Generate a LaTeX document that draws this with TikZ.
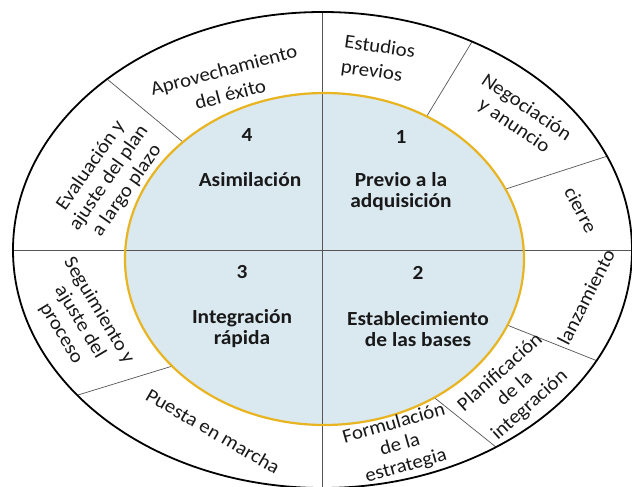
\documentclass[tikz,border=0pt]{standalone}
\usepackage{fontspec}
\setmainfont{Carlito}[FakeStretch=1.07]
\usetikzlibrary{calc}
\definecolor{innerfill}{HTML}{DAE8F0}
\definecolor{ringgold}{HTML}{E8B420}
\definecolor{divgray}{HTML}{555555}
\tikzset{
  phase/.style={font=\fontsize{20}{21}\selectfont\bfseries, align=center, inner sep=0pt, text=black!90},
  task/.style={font=\fontsize{19.5}{22}\selectfont, align=center, inner sep=0pt, text=black!90},
  divider/.style={draw=divgray, line width=0.7pt},
  axisline/.style={draw=divgray, line width=0.9pt},
}
\begin{document}
\begin{tikzpicture}[x=1pt,y=-1pt]
\useasboundingbox (0,0) rectangle (632,487);
\coordinate (oc) at (322.5,250);
\coordinate (ic) at (324.5,259);
% outer ring
\fill[white] (oc) ellipse [x radius=309.5, y radius=238];
% inner disc fill
\fill[innerfill] (ic) ellipse [x radius=199.5, y radius=166];
% axis lines
\coordinate (otop) at ($(oc)+(270:309.5 and 238)$);
\coordinate (obot) at ($(oc)+(90:309.5 and 238)$);
\coordinate (oleft) at ($(oc)+(180:309.5 and 238)$);
\coordinate (oright) at ($(oc)+(0:309.5 and 238)$);
\draw[axisline] (otop) -- (obot);
\draw[axisline] (oleft) -- (oright);
% dividers
\foreach \name/\oa/\ia in {d1/225.9/224.8, d2/298.9/300.8, d3/336.8/335.1, d4/142.4/139.8, d5/27.7/23.5, d6/55.9/56.6}{
  \coordinate (\name o) at ($(oc)+(\oa:309.5 and 238)$);
  \coordinate (\name i) at ($(ic)+(\ia:199.5 and 166)$);
  \draw[divider] (\name i) -- (\name o);
}
% borders
\draw[ringgold, line width=2.2pt] (ic) ellipse [x radius=199.5, y radius=166];
\draw[black, line width=1.8pt] (oc) ellipse [x radius=309.5, y radius=238];
% phase labels
\node[phase] (n4) at (247,135) {4};
\node[phase] (a4) at (250,180) {Asimilación};
\node[phase] (n1) at (401,137) {1};
\node[phase] (a1) at (401,192) {Previo a la\\adquisición};
\node[phase] (n3) at (242,272) {3};
\node[phase] (a3) at (242,329) {Integración\\rápida};
\node[phase] (n2) at (418,273) {2};
\node[phase] (a2) at (418,329) {Establecimiento\\de las bases};
% task labels
\node[task, rotate=15, font=\fontsize{19.5}{25}\selectfont] (t1) at (227,82) {Aprovechamiento\\del éxito};
\node[task, rotate=-8, align=left, font=\fontsize{19.5}{25}\selectfont] (t2) at (378,60) {Estudios\\previos};
\node[task, rotate=-34] (t3) at (520,117) {Negociación\\y anuncio};
\node[task, rotate=-62] (t4) at (581,210) {cierre};
\node[task, rotate=63] (t5) at (586,297) {lanzamiento};
\node[task, rotate=42] (t6) at (515,389) {Planificación\\de la\\integración};
\node[task, rotate=16] (t7) at (400,445) {Formulación\\de la\\estrategia};
\node[task, rotate=-30] (t8) at (213,431) {Puesta en marcha};
\node[task, rotate=-59] (t9) at (80,322) {Seguimiento y\\ajuste del\\proceso};
\node[task, rotate=55] (t10) at (109,178) {Evaluación y\\ajuste del plan\\a largo plazo};
\end{tikzpicture}
\end{document}
